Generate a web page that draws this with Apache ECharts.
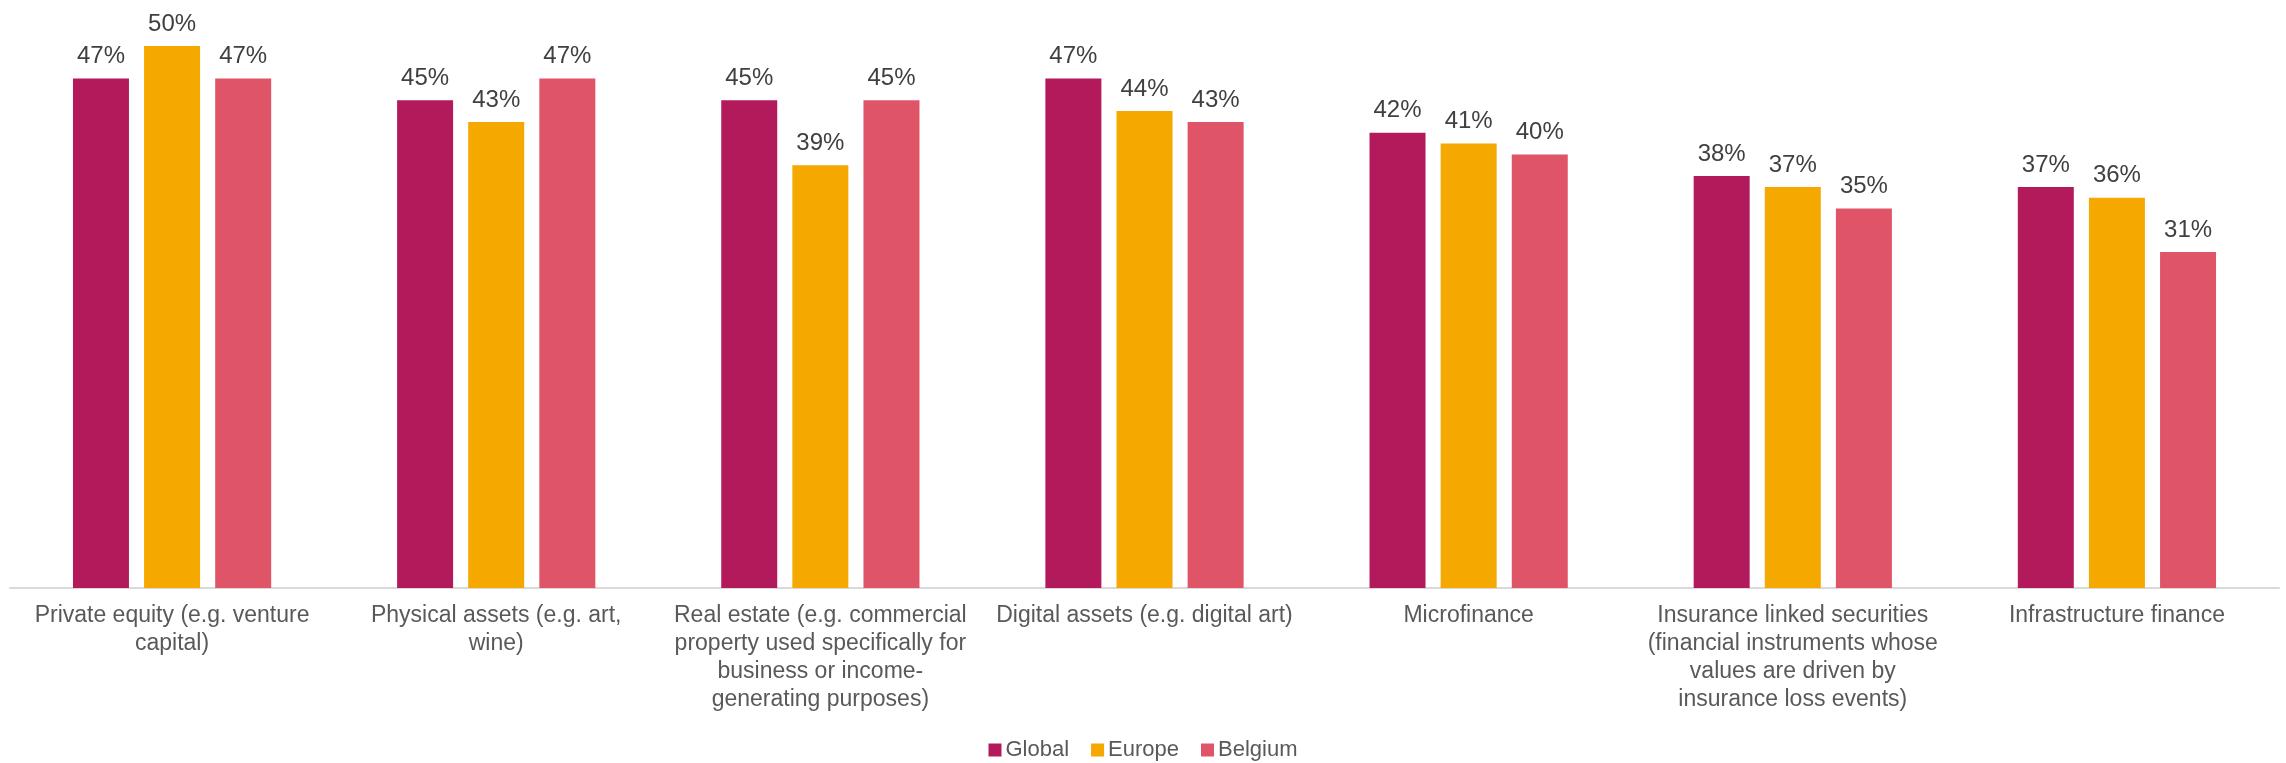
<!DOCTYPE html>
<html>
<head>
<meta charset="utf-8">
<title>Alternative investments by region</title>
<script src="https://cdn.jsdelivr.net/npm/echarts@6/dist/echarts.min.js"></script>
<style>
  html, body { margin: 0; padding: 0; background: #ffffff; }
  #chart { width: 2286px; height: 763px; }
</style>
</head>
<body>
<div id="chart"></div>
<script>
// Asset classes shown along the x axis (line breaks as printed)
const categories = [
  'Private equity (e.g. venture\ncapital)',
  'Physical assets (e.g. art,\nwine)',
  'Real estate (e.g. commercial\nproperty used specifically for\nbusiness or income-\ngenerating purposes)',
  'Digital assets (e.g. digital art)',
  'Microfinance',
  'Insurance linked securities\n(financial instruments whose\nvalues are driven by\ninsurance loss events)',
  'Infrastructure finance'
];

const seriesNames = ['Global', 'Europe', 'Belgium'];

// Share of respondents, in percent
const globalValues  = [47, 45, 45, 47, 42, 38, 37];
const europeValues  = [50, 43, 39, 44, 41, 37, 36];
const belgiumValues = [47, 47, 45, 43, 40, 35, 31];

const colors = ['#B31A5C', '#F5A800', '#E05468'];
const fontFamily = '"Liberation Sans", Arial, Helvetica, sans-serif';

const valueSets = [globalValues, europeValues, belgiumValues];

const chart = echarts.init(document.getElementById('chart'), null, { renderer: 'canvas' });

chart.setOption({
  backgroundColor: '#ffffff',
  animation: false,
  textStyle: { fontFamily: fontFamily },
  grid: { left: 10, right: 7, top: 46, bottom: 175, containLabel: false },
  legend: {
    data: seriesNames,
    top: 734,
    left: 'center',
    icon: 'rect',
    itemWidth: 13,
    itemHeight: 13,
    itemGap: 22,
    textStyle: { color: '#595959', fontSize: 22, fontFamily: fontFamily, padding: [0, 0, 0, -1] }
  },
  xAxis: {
    type: 'category',
    data: categories,
    axisLine: { show: true, lineStyle: { color: '#D9D9D9', width: 2 } },
    axisTick: { show: false },
    axisLabel: {
      interval: 0,
      margin: 14,
      color: '#595959',
      fontSize: 23,
      lineHeight: 28,
      fontFamily: fontFamily,
      align: 'center'
    }
  },
  yAxis: {
    type: 'value',
    min: 0,
    max: 50,
    show: false,
    splitLine: { show: false }
  },
  series: seriesNames.map((name, i) => ({
    name: name,
    type: 'bar',
    data: valueSets[i],
    barWidth: 56,
    barGap: '27%',
    itemStyle: { color: colors[i] },
    label: {
      show: true,
      position: 'top',
      distance: 10,
      formatter: '{c}%',
      color: '#404040',
      fontSize: 24,
      fontFamily: fontFamily
    }
  }))
});
</script>
</body>
</html>
